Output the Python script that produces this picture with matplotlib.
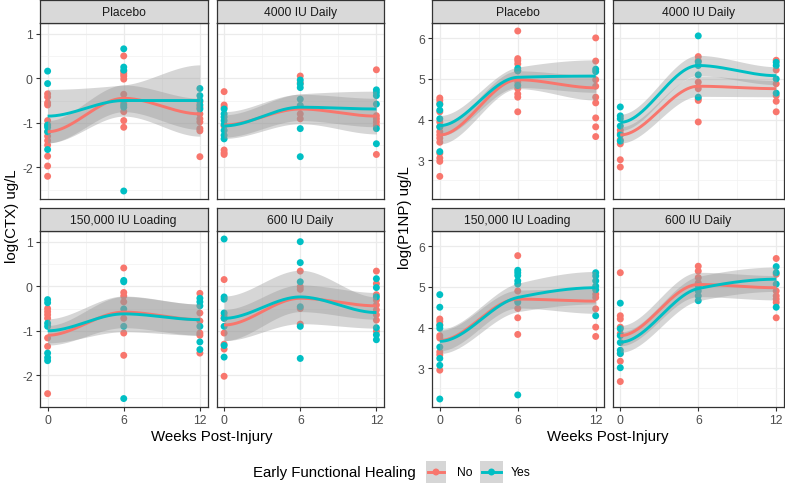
import numpy as np
import matplotlib
matplotlib.use('Agg')
import matplotlib.pyplot as plt
from matplotlib.patches import Rectangle

plt.rcParams['font.family'] = ['Liberation Sans', 'DejaVu Sans']

# ---------------- data ----------------
weeks = [0, 6, 12]
groups = ['Placebo', '4000 IU Daily', '150,000 IU Loading', '600 IU Daily']
healing = ['No', 'Yes']
colors = {'No': '#F8766D', 'Yes': '#00BFC4'}

# log(CTX) observations, keyed by week
ctx_placebo_no = {0: [-0.35, -0.42, -0.55, -0.6, -0.95, -1.05, -1.2, -1.3, -1.4, -1.5, -1.75, -1.97, -2.2],
                  6: [0.5, 0.15, 0.1, 0.05, -0.02, -0.36, -0.55, -0.75, -0.95, -1.1],
                  12: [-0.53, -0.65, -0.8, -0.91, -0.98, -1.13, -1.18, -1.76]}
ctx_placebo_yes = {0: [0.16, -0.12, -1.05, -1.1, -1.2, -1.6],
                   6: [0.66, 0.25, 0.18, -0.6, -0.65, -2.53],
                   12: [-0.23, -0.39, -0.5, -0.69, -0.6]}
ctx_4000_no = {0: [-0.30, -0.6, -0.65, -1.07, -1.61, -1.67, -1.71],
               6: [0.05, -0.1, -0.65, -0.8, -0.91],
               12: [0.19, -0.84, -0.91, -0.98, -1.06, -1.71]}
ctx_4000_yes = {0: [-0.69, -0.8, -0.87, -0.95, -1.04, -1.17, -1.28, -1.36],
                6: [-0.04, -0.13, -0.21, -0.47, -0.61, -1.13, -1.76],
                12: [-0.26, -0.32, -0.39, -0.58, -1.13, -1.47]}
ctx_150k_no = {0: [-0.5, -0.57, -0.64, -0.72, -1.16, -1.35, -2.41],
               6: [0.41, -0.14, -0.22, -0.35, -0.72, -1.05, -1.55],
               12: [-0.16, -0.6, -0.78, -1.05, -1.1, -1.5]}
ctx_150k_yes = {0: [-0.30, -0.37, -0.83, -0.9, -1.5, -1.6, -1.67],
                6: [0.13, 0.1, -0.51, -0.9, -2.52],
                12: [-0.27, -0.35, -0.44, -0.9, -1.25, -1.42]}
ctx_600_no = {0: [0.15, -0.66, -0.72, -1.05, -1.3, -1.41, -2.02],
              6: [0.34, -0.01, -0.07, -0.5, -0.85],
              12: [0.34, 0.06, -0.19, -0.31, -0.42, -0.53, -0.64, -0.76, -1.01]}
ctx_600_yes = {0: [1.06, -0.24, -0.29, -0.6, -0.72, -0.9, -1.33, -1.59],
               6: [1.0, 0.53, 0.1, -0.46, -0.9, -1.62],
               12: [0.17, -0.03, -0.24, -0.93, -1.09, -1.2]}

# log(P1NP) observations
p1np_placebo_no = {0: [4.53, 4.47, 4.39, 4.19, 3.94, 3.82, 3.70, 3.62, 3.54, 3.44, 3.17, 3.05, 2.97, 2.60],
                   6: [6.18, 5.50, 5.45, 5.37, 5.20, 4.92, 4.76, 4.63, 4.55, 4.19],
                   12: [6.01, 5.44, 4.98, 4.82, 4.55, 4.41, 4.04, 3.82, 3.58]}
p1np_placebo_yes = {0: [4.37, 4.23, 4.02, 3.82, 3.21],
                    6: [5.26, 5.20, 4.84],
                    12: [5.24, 5.18]}
p1np_4000_no = {0: [3.74, 3.66, 3.5, 3.40, 3.01, 2.83],
                6: [5.55, 5.45, 4.92, 4.76, 4.51, 4.47, 3.94],
                12: [5.46, 5.22, 4.88, 4.59, 4.45, 4.19]}
p1np_4000_yes = {0: [4.31, 4.09, 4.02, 3.84, 3.62, 3.47],
                 6: [6.06, 5.42, 5.33, 5.10, 4.55],
                 12: [5.41, 5.33, 5.0, 4.65]}
p1np_150k_no = {0: [4.21, 4.15, 4.07, 3.80, 3.74, 3.40, 3.33, 2.95],
                6: [5.77, 4.90, 4.66, 4.47, 4.24, 3.83],
                12: [4.82, 4.74, 4.46, 4.01, 3.78]}
p1np_150k_yes = {0: [4.81, 4.50, 4.05, 3.98, 3.52, 3.24, 3.07, 2.24],
                 6: [5.41, 5.35, 5.28, 5.15, 5.07, 4.62, 2.34],
                 12: [5.35, 5.27, 5.15, 5.02, 4.93, 4.29]}
p1np_600_no = {0: [5.35, 4.29, 4.21, 4.01, 3.85, 3.36, 3.17, 2.67],
               6: [5.51, 5.39, 5.23, 5.1],
               12: [5.70, 5.31, 4.90, 4.78, 4.70, 4.62, 4.24]}
p1np_600_yes = {0: [4.60, 3.97, 3.80, 3.63, 3.44, 3.36, 3.01],
                6: [5.02, 4.9, 4.78, 4.66],
                12: [5.50, 5.35, 5.07, 4.50]}

# smoothed fits (value at weeks 0, 6, 12) and confidence half-widths
ctx_fit_no = {'Placebo': [-1.2, -0.45, -0.8], '4000 IU Daily': [-1.05, -0.69, -0.85],
              '150,000 IU Loading': [-1.1, -0.58, -0.75], '600 IU Daily': [-0.87, -0.27, -0.44]}
ctx_fit_yes = {'Placebo': [-0.85, -0.5, -0.5], '4000 IU Daily': [-1.07, -0.65, -0.69],
               '150,000 IU Loading': [-1.0, -0.62, -0.75], '600 IU Daily': [-0.72, -0.24, -0.59]}
ctx_ci_no = {'Placebo': [0.25, 0.3, 0.35], '4000 IU Daily': [0.3, 0.33, 0.4],
             '150,000 IU Loading': [0.22, 0.35, 0.35], '600 IU Daily': [0.35, 0.3, 0.3]}
ctx_ci_yes = {'Placebo': [0.6, 0.35, 0.8], '4000 IU Daily': [0.25, 0.3, 0.4],
              '150,000 IU Loading': [0.27, 0.4, 0.35], '600 IU Daily': [0.5, 0.6, 0.35]}

p1np_fit_no = {'Placebo': [3.62, 4.98, 4.78], '4000 IU Daily': [3.62, 4.82, 4.76],
               '150,000 IU Loading': [3.68, 4.70, 4.65], '600 IU Daily': [3.80, 5.06, 4.98]}
p1np_fit_yes = {'Placebo': [3.85, 5.04, 5.07], '4000 IU Daily': [3.93, 5.33, 5.08],
                '150,000 IU Loading': [3.66, 4.74, 4.98], '600 IU Daily': [3.64, 4.96, 5.19]}
p1np_ci_no = {'Placebo': [0.22, 0.22, 0.3], '4000 IU Daily': [0.2, 0.25, 0.2],
              '150,000 IU Loading': [0.25, 0.22, 0.3], '600 IU Daily': [0.25, 0.3, 0.3]}
p1np_ci_yes = {'Placebo': [0.25, 0.25, 0.4], '4000 IU Daily': [0.2, 0.25, 0.22],
               '150,000 IU Loading': [0.3, 0.35, 0.4], '600 IU Daily': [0.25, 0.3, 0.3]}

ctx_points = {('Placebo', 'No'): ctx_placebo_no, ('Placebo', 'Yes'): ctx_placebo_yes,
              ('4000 IU Daily', 'No'): ctx_4000_no, ('4000 IU Daily', 'Yes'): ctx_4000_yes,
              ('150,000 IU Loading', 'No'): ctx_150k_no, ('150,000 IU Loading', 'Yes'): ctx_150k_yes,
              ('600 IU Daily', 'No'): ctx_600_no, ('600 IU Daily', 'Yes'): ctx_600_yes}
p1np_points = {('Placebo', 'No'): p1np_placebo_no, ('Placebo', 'Yes'): p1np_placebo_yes,
               ('4000 IU Daily', 'No'): p1np_4000_no, ('4000 IU Daily', 'Yes'): p1np_4000_yes,
               ('150,000 IU Loading', 'No'): p1np_150k_no, ('150,000 IU Loading', 'Yes'): p1np_150k_yes,
               ('600 IU Daily', 'No'): p1np_600_no, ('600 IU Daily', 'Yes'): p1np_600_yes}

# ---------------- helpers ----------------
W, H = 785, 485
fig = plt.figure(figsize=(W / 100, H / 100), dpi=100)
fig.patch.set_facecolor('white')


def rect(l, t, r, b):
    return [l / W, 1 - b / H, (r - l) / W, (b - t) / H]


def pchip(xs, knots, vals):
    k = np.asarray(knots, float)
    v = np.asarray(vals, float)
    sec = np.diff(v) / np.diff(k)
    d = np.zeros_like(v)
    for i in range(1, len(v) - 1):
        if sec[i - 1] * sec[i] > 0:
            d[i] = 2.0 / (1.0 / sec[i - 1] + 1.0 / sec[i])
    idx = np.clip(np.searchsorted(k, xs, 'right') - 1, 0, len(k) - 2)
    h = k[idx + 1] - k[idx]
    t = (xs - k[idx]) / h
    h00 = 2 * t**3 - 3 * t**2 + 1
    h10 = t**3 - 2 * t**2 + t
    h01 = -2 * t**3 + 3 * t**2
    h11 = t**3 - t**2
    return h00 * v[idx] + h10 * h * d[idx] + h01 * v[idx + 1] + h11 * h * d[idx + 1]


def style_panel(ax, ylim, yticks, yminor, show_x, show_y):
    ax.set_xlim(-0.6, 12.6)
    ax.set_ylim(*ylim)
    ax.set_xticks(weeks)
    ax.set_xticks([3, 9], minor=True)
    ax.set_yticks(yticks)
    ax.set_yticks(yminor, minor=True)
    ax.grid(which='major', color='#EBEBEB', lw=0.9)
    ax.grid(which='minor', color='#F2F2F2', lw=0.5)
    ax.set_axisbelow(True)
    for s in ax.spines.values():
        s.set_color('#333333')
        s.set_linewidth(0.9)
    ax.tick_params(which='major', color='#333333', length=3.2, width=0.8,
                   labelcolor='#4D4D4D', labelsize=8.7, pad=2)
    ax.tick_params(which='minor', length=0)
    ax.set_yticklabels([f'{t:g}' for t in yticks] if show_y else [])
    ax.set_xticklabels([str(w) for w in weeks] if show_x else [])
    if not show_x:
        ax.tick_params(axis='x', which='major', length=0)
    if not show_y:
        ax.tick_params(axis='y', which='major', length=0)


def strip(l, t, r, b, label):
    sa = fig.add_axes(rect(l, t, r, b))
    sa.set_facecolor('#D9D9D9')
    sa.set_xticks([])
    sa.set_yticks([])
    for s in sa.spines.values():
        s.set_color('#333333')
        s.set_linewidth(0.9)
    sa.text(0.5, 0.48, label, ha='center', va='center', fontsize=8.7, color='#1A1A1A',
            transform=sa.transAxes)


def limits(points):
    allv = [y for d in points.values() for w in weeks for y in d[w]]
    lo, hi = min(allv), max(allv)
    pad = 0.05 * (hi - lo)
    return (lo - pad, hi + pad)


xs = np.linspace(0, 12, 241)
rows = [(24, 200, 1, 24), (232, 408, 209, 232)]


def draw_grid(cols, points, fits, cis, yticks, yminor):
    ylim = limits(points)
    for gi, g in enumerate(groups):
        r, c = divmod(gi, 2)
        pt, pb, st, sb = rows[r]
        cl, cr = cols[c]
        ax = fig.add_axes(rect(cl, pt, cr, pb))
        style_panel(ax, ylim, yticks, yminor, show_x=(r == 1), show_y=(c == 0))
        strip(cl, st, cr, sb, g)
        for hl in healing:
            d = points[(g, hl)]
            for w in weeks:
                ax.scatter([w] * len(d[w]), d[w], s=25, color=colors[hl],
                           edgecolors='none', zorder=2)
        for hl in healing:
            fit = fits[hl][g]
            ci = cis[hl][g]
            yfit = pchip(xs, weeks, fit)
            lower = pchip(xs, weeks, np.array(fit) - np.array(ci))
            upper = pchip(xs, weeks, np.array(fit) + np.array(ci))
            ax.fill_between(xs, lower, upper, color='#999999', alpha=0.4,
                            lw=0, zorder=3)
            ax.plot(xs, yfit, color=colors[hl], lw=2.1, zorder=4,
                    solid_capstyle='butt')


draw_grid([(40, 207.5), (216.5, 384)], ctx_points,
          {'No': ctx_fit_no, 'Yes': ctx_fit_yes}, {'No': ctx_ci_no, 'Yes': ctx_ci_yes},
          [-2, -1, 0, 1], [-2.5, -1.5, -0.5, 0.5])
draw_grid([(432, 603.5), (612.5, 784)], p1np_points,
          {'No': p1np_fit_no, 'Yes': p1np_fit_yes}, {'No': p1np_ci_no, 'Yes': p1np_ci_yes},
          [3, 4, 5, 6], [2.5, 3.5, 4.5, 5.5])

# axis titles
fig.text(12 / W, 1 - 216 / H, 'log(CTX) ug/L', rotation=90, ha='center', va='center', fontsize=10.8)
fig.text(405 / W, 1 - 218 / H, 'log(P1NP) ug/L', rotation=90, ha='center', va='center', fontsize=10.8)
fig.text(212 / W, 1 - 437 / H, 'Weeks Post-Injury', ha='center', va='center', fontsize=10.8)
fig.text(608 / W, 1 - 437 / H, 'Weeks Post-Injury', ha='center', va='center', fontsize=10.8)

# legend
fig.text(253 / W, 1 - 473 / H, 'Early Functional Healing', ha='left', va='center', fontsize=10.8)
for hl, (kl, kr), tx in [('No', (426, 446), 457), ('Yes', (480, 503), 511)]:
    ka = fig.add_axes(rect(kl, 462, kr, 484))
    ka.set_xlim(0, 1)
    ka.set_ylim(0, 1)
    ka.axis('off')
    ka.add_patch(Rectangle((0, 0), 1, 1, color='#999999', alpha=0.4, lw=0))
    ka.plot([0.1, 0.9], [0.5, 0.5], color=colors[hl], lw=2.1)
    ka.scatter([0.5], [0.5], s=25, color=colors[hl], edgecolors='none', zorder=3)
    fig.text(tx / W, 1 - 473 / H, hl, ha='left', va='center', fontsize=8.7)

fig.savefig('out.png', dpi=100, facecolor='white')
